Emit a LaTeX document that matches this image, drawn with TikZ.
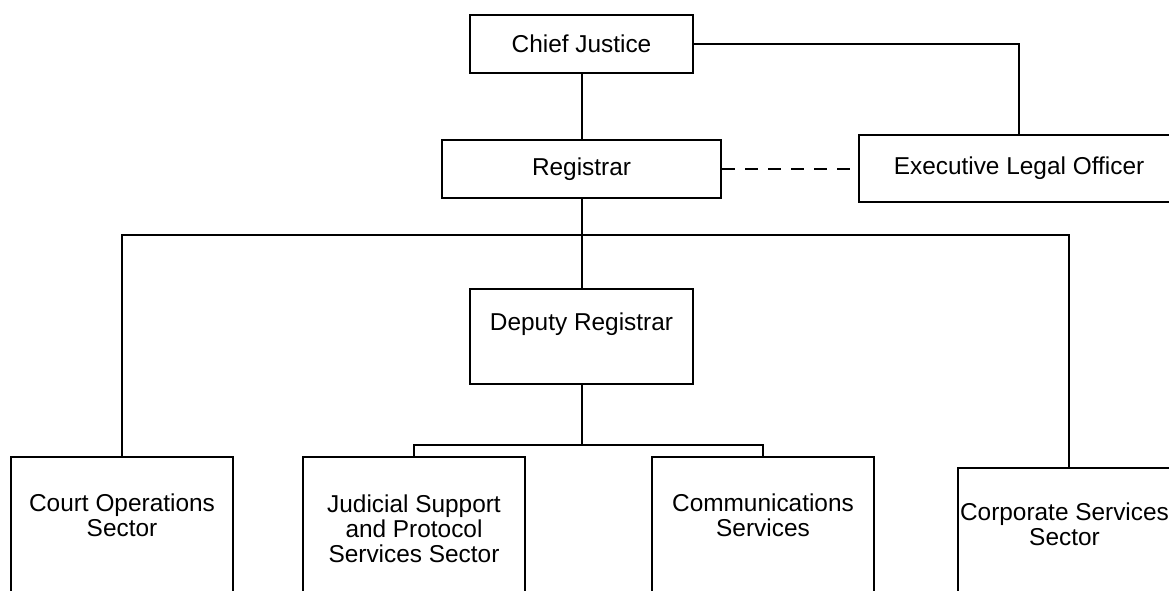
\documentclass[tikz,border=0pt]{standalone}
\usepackage{fontspec}
\setmainfont{Liberation Sans}

\begin{document}
\begin{tikzpicture}[x = 0.5pt, y = -0.5pt,
	box/.style = {draw, line width = 1pt, inner sep = 0pt},
	txt/.style = {align = center, inner sep = 0pt, font = \fontsize{12.2}{12.6}\selectfont},
	link/.style = {line width = 1pt}]
	\clip (0, 0) rectangle (1169, 590);
	\fill[white] (0, 0) rectangle (1169, 590);
	\node[box, txt, minimum width = 111.5pt, minimum height = 29pt] (cj) at (581.5, 44) {Chief Justice};
	\node[box, txt, minimum width = 139.5pt, minimum height = 29pt] (reg) at (581.5, 169) {Registrar};
	\node[box, txt, minimum width = 160pt, minimum height = 33.5pt] (elo) at (1019, 168.5) {Executive Legal Officer};
	\node[box, minimum width = 111.5pt, minimum height = 47.5pt] (dep) at (581.5, 336.5) {};
	\node[box, minimum width = 111pt, minimum height = 91.5pt] (court) at (122, 548.5) {};
	\node[box, minimum width = 111pt, minimum height = 91.5pt] (js) at (414, 548.5) {};
	\node[box, minimum width = 111pt, minimum height = 91.5pt] (comm) at (763, 548.5) {};
	\node[box, minimum width = 111pt, minimum height = 86pt] (corp) at (1069, 554) {};
	\node[txt] (depT) at (581.5, 324) {Deputy Registrar};
	\node[txt] (courtT) at (122, 515.5) {Court Operations\\Sector};
	\node[txt] (jsT) at (414, 529) {Judicial Support\\and Protocol\\Services Sector};
	\node[txt] (commT) at (763, 515.5) {Communications\\Services};
	\node[txt] (corpT) at (1064.5, 524.5) {Corporate Services\\Sector};
	\coordinate (bus) at (581.5, 235);
	\coordinate (sub) at (581.5, 445);
	\draw[link] (cj) -- (reg);
	\draw[link] (cj.east) -| (elo.north);
	\draw[link, dash pattern = on 6.5pt off 5pt] (reg.east) -- (reg.east -| elo.west);
	\draw[link] (reg) -- (dep);
	\draw[link] (court.north) |- (bus) -| (corp.north);
	\draw[link] (dep) -- (sub);
	\draw[link] (js.north) |- (sub) -| (comm.north);
\end{tikzpicture}
\end{document}
